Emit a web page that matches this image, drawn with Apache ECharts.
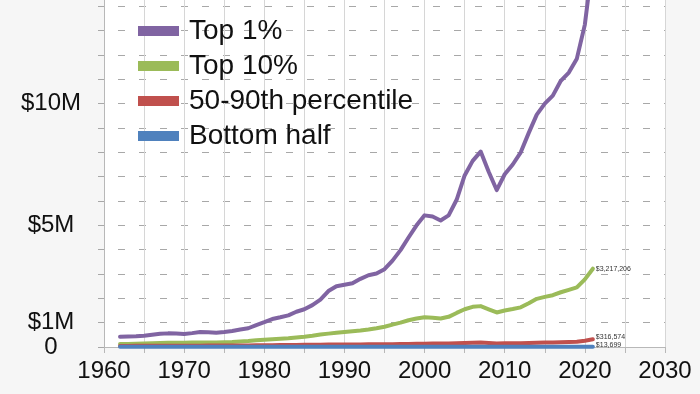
<!DOCTYPE html>
<html>
<head>
<meta charset="utf-8">
<script src="https://cdn.jsdelivr.net/npm/echarts@6/dist/echarts.min.js"></script>
<style>html,body{margin:0;padding:0;background:#f6f6f6;}#c{width:700px;height:394px;}</style>
</head>
<body>
<div id="c"></div>
<script>
var years = [];
for (var y = 1962; y <= 2021; y++) years.push(y);

var seriesNames = ['Top 1%', 'Top 10%', '50-90th percentile', 'Bottom half'];

// values in millions of dollars
var top1 = [0.42,0.43,0.44,0.46,0.50,0.54,0.56,0.55,0.53,0.57,
            0.62,0.61,0.59,0.62,0.66,0.72,0.77,0.90,1.02,1.15,
            1.22,1.30,1.45,1.55,1.72,1.95,2.30,2.50,2.56,2.62,
            2.80,2.95,3.02,3.20,3.55,3.98,4.50,5.00,5.41,5.36,
            5.20,5.41,6.05,7.05,7.65,8.03,7.20,6.45,7.10,7.50,
            8.00,8.80,9.55,10.00,10.33,10.94,11.28,11.85,13.25,15.90];
var top10 = [0.12,0.12,0.13,0.14,0.15,0.16,0.17,0.17,0.17,0.18,
             0.19,0.19,0.19,0.20,0.21,0.23,0.25,0.28,0.30,0.32,
             0.34,0.36,0.39,0.42,0.46,0.51,0.55,0.59,0.62,0.65,
             0.68,0.72,0.77,0.83,0.92,1.00,1.10,1.17,1.22,1.20,
             1.17,1.24,1.40,1.55,1.65,1.68,1.55,1.42,1.50,1.56,
             1.63,1.80,1.98,2.06,2.13,2.25,2.35,2.45,2.78,3.217206];
var mid40 = [0.045,0.046,0.047,0.048,0.050,0.051,0.052,0.053,0.053,0.054,
             0.056,0.057,0.058,0.059,0.061,0.063,0.066,0.070,0.074,0.077,
             0.080,0.083,0.086,0.089,0.092,0.095,0.098,0.100,0.102,0.104,
             0.106,0.108,0.111,0.114,0.118,0.122,0.127,0.132,0.138,0.140,
             0.142,0.146,0.155,0.165,0.175,0.180,0.165,0.148,0.150,0.152,
             0.156,0.165,0.175,0.180,0.186,0.195,0.205,0.220,0.260,0.316574];
var bottom50 = [0.008,0.008,0.008,0.008,0.009,0.009,0.009,0.009,0.009,0.009,
                0.009,0.009,0.009,0.009,0.009,0.010,0.010,0.010,0.010,0.010,
                0.010,0.010,0.010,0.010,0.010,0.010,0.010,0.010,0.010,0.010,
                0.010,0.010,0.010,0.010,0.010,0.010,0.011,0.011,0.011,0.011,
                0.011,0.011,0.012,0.013,0.014,0.014,0.011,0.007,0.006,0.006,
                0.006,0.007,0.008,0.008,0.009,0.009,0.010,0.010,0.011,0.013699];
var endLabels = ['', '$3,217,206', '$316,574', '$13,699'];
var yTickLabels = {0: '0', 1: '$1M', 5: '$5M', 10: '$10M'};
var colors = ['#8064A2', '#9BBB59', '#C0504D', '#4F81BD'];

function pairs(arr) { return years.map(function (yr, i) { return [yr, arr[i]]; }); }
var allData = [top1, top10, mid40, bottom50];
var offsets = [[0,0],[0,0],[0,-2],[0,-2]];

var chart = echarts.init(document.getElementById('c'), null, {renderer: 'canvas'});
var font = 'Liberation Sans, Arial, sans-serif';
chart.setOption({
  backgroundColor: '#f6f6f6',
  animation: false,
  color: colors,
  grid: {left: 104, right: 35, top: -18, bottom: 47, show: true, backgroundColor: '#ffffff',
         borderWidth: 0, containLabel: false, outerBoundsMode: 'none'},
  legend: {
    orient: 'vertical', left: 133, top: 12, itemWidth: 41, itemHeight: 10, itemGap: 7,
    icon: 'rect', data: seriesNames,
    textStyle: {fontSize: 28, fontFamily: font, color: '#111', padding: [0, 0, 0, 5]}
  },
  xAxis: {
    type: 'value', min: 1960, max: 2030, interval: 5,
    axisLine: {show: true, lineStyle: {color: '#b8b8b8', width: 1}},
    axisTick: {show: true, length: 6, lineStyle: {color: '#b8b8b8'}},
    axisLabel: {fontSize: 24, fontFamily: font, color: '#111', margin: 12,
      showMinLabel: true, showMaxLabel: true,
      formatter: function (v) { return v % 10 === 0 ? String(v) : ''; }},
    splitLine: {show: true, lineStyle: {color: '#d6d6d6', width: 1}}
  },
  yAxis: {
    type: 'value', min: 0, max: 15, interval: 1,
    axisLine: {show: true, lineStyle: {color: '#b8b8b8', width: 1}},
    axisTick: {show: true, length: 6, lineStyle: {color: '#a8a8a8'}},
    axisLabel: {fontSize: 24, fontFamily: font, color: '#111', margin: 53, align: 'center',
      showMinLabel: true, hideOverlap: false,
      formatter: function (v) { return yTickLabels[v] !== undefined ? yTickLabels[v] : ''; }},
    splitLine: {show: true, lineStyle: {color: '#a8a8a8', width: 1, type: [7, 14], dashOffset: 7}}
  },
  series: seriesNames.map(function (name, i) {
    return {
      name: name, type: 'line', data: pairs(allData[i]), showSymbol: false, symbol: 'none',
      lineStyle: {width: 4, color: colors[i], cap: 'round', join: 'round'},
      itemStyle: {color: colors[i]},
      endLabel: {show: !!endLabels[i], formatter: endLabels[i], fontSize: 7, fontFamily: font,
                 color: '#333', distance: 3, offset: offsets[i]}
    };
  })
});
</script>
</body>
</html>
